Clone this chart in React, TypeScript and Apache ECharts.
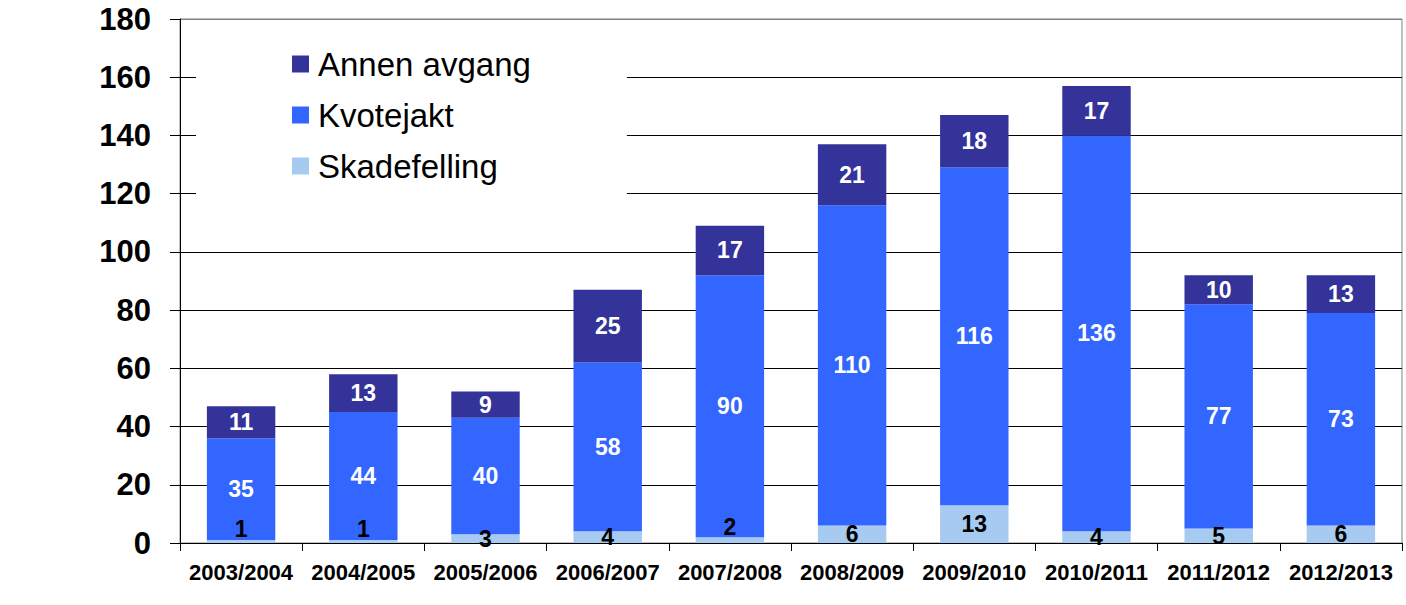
import React, { useEffect, useRef } from "react";
import * as echarts from "echarts";

const categories = ["2003/2004", "2004/2005", "2005/2006", "2006/2007", "2007/2008", "2008/2009", "2009/2010", "2010/2011", "2011/2012", "2012/2013"];
const skadefelling = [1, 1, 3, 4, 2, 6, 13, 4, 5, 6];
const kvotejakt = [35, 44, 40, 58, 90, 110, 116, 136, 77, 73];
const annenAvgang = [11, 13, 9, 25, 17, 21, 18, 17, 10, 13];
const seriesNames = ["Skadefelling", "Kvotejakt", "Annen avgang"];
const legendOrder = ["Annen avgang", "Kvotejakt", "Skadefelling"];

const FONT = "'Liberation Sans', Arial, sans-serif";

export default function App() {
  const ref = useRef<HTMLDivElement>(null);
  useEffect(() => {
    document.body.style.margin = "0";
    const chart = echarts.init(ref.current!, null, { renderer: "svg" });
    const labelBase = { show: true, position: "inside", fontFamily: FONT, fontWeight: "bold", fontSize: 23 };
    chart.setOption({
      animation: false,
      textStyle: { fontFamily: FONT },
      grid: { left: 180, right: 4, top: 19, bottom: 62, show: true, borderColor: "#808080", borderWidth: 1, backgroundColor: "transparent" },
      legend: {
        data: legendOrder,
        orient: "vertical",
        left: 196,
        top: 29,
        padding: [18, 96, 20, 96],
        backgroundColor: "#ffffff",
        itemWidth: 17,
        itemHeight: 17,
        itemGap: 17,
        icon: "rect",
        textStyle: { fontFamily: FONT, fontSize: 33, color: "#000", lineHeight: 34, padding: [0, 0, 0, 4] },
      },
      xAxis: {
        type: "category",
        data: categories,
        axisLine: { lineStyle: { color: "#000", width: 1 } },
        axisTick: { show: true, interval: 0, length: 8, lineStyle: { color: "#000" } },
        axisLabel: { interval: 0, fontFamily: FONT, fontWeight: "bold", fontSize: 22, color: "#000", margin: 18 },
      },
      yAxis: {
        type: "value",
        min: 0,
        max: 180,
        interval: 20,
        axisLine: { show: true, lineStyle: { color: "#000", width: 1 } },
        axisTick: { show: true, length: 10, lineStyle: { color: "#000" } },
        axisLabel: { fontFamily: FONT, fontWeight: "bold", fontSize: 31, color: "#000", margin: 29 },
        splitLine: { show: true, lineStyle: { color: ["#000", "#000", "#000", "#000", "#000", "#000", "#000", "#000", "#000", "#808080"], width: 1 } },
      },
      series: [
        {
          name: seriesNames[0],
          type: "bar",
          stack: "total",
          barWidth: "56%",
          itemStyle: { color: "#A6CAF0" },
          label: { ...labelBase, color: "#000" },
          data: skadefelling.map((v) => (v < 3 ? { value: v, label: { offset: [0, -13] } } : v)),
        },
        {
          name: seriesNames[1],
          type: "bar",
          stack: "total",
          barWidth: "56%",
          itemStyle: { color: "#3366FF" },
          label: { ...labelBase, color: "#fff" },
          data: kvotejakt,
        },
        {
          name: seriesNames[2],
          type: "bar",
          stack: "total",
          barWidth: "56%",
          itemStyle: { color: "#333399" },
          label: { ...labelBase, color: "#fff" },
          data: annenAvgang,
        },
      ],
    });
    return () => chart.dispose();
  }, []);
  return <div ref={ref} style={{ width: 1406, height: 605 }} />;
}
